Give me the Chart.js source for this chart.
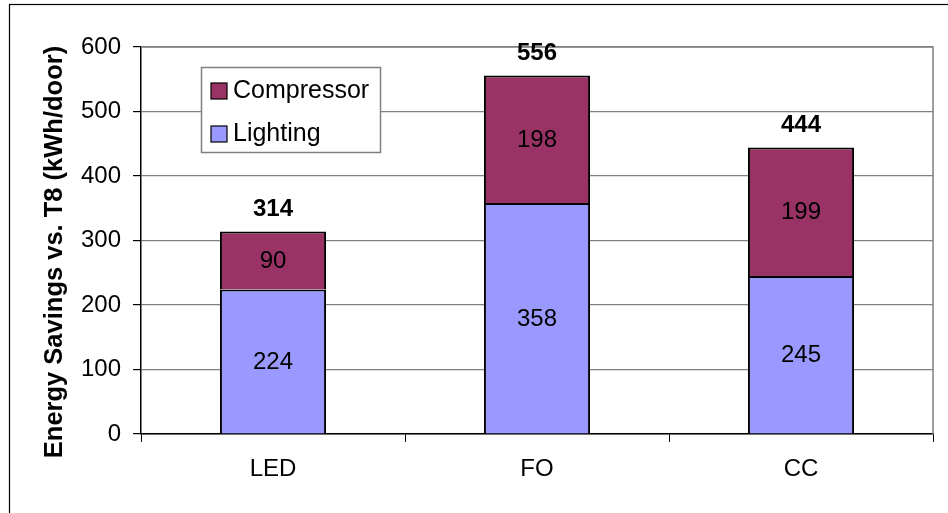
<!DOCTYPE html>
<html>
<head>
<meta charset="utf-8">
<script src="https://cdn.jsdelivr.net/npm/chart.js@4/dist/chart.umd.min.js"></script>
<style>
  html, body { margin: 0; padding: 0; background: #fff; }
  #wrap { position: relative; width: 948px; height: 513px; }
</style>
</head>
<body>
<div id="wrap"><canvas id="c" width="948" height="513"></canvas></div>
<script>
// Energy savings per door compared with T8 lamps
const categories = ['LED', 'FO', 'CC'];
const lighting = [224, 358, 245];
const compressor = [90, 198, 199];
const yTicks = [0, 100, 200, 300, 400, 500, 600];
const yTitle = 'Energy Savings vs. T8 (kWh/door)';

const FONT = "'Liberation Sans', Arial, sans-serif";
const GRID = '#808080';

// Frame, plot border, axis title, in-plot legend, value labels
const decorations = {
  id: 'decorations',
  beforeDraw(chart) {
    const ctx = chart.ctx;
    ctx.save();
    ctx.fillStyle = '#fff';
    ctx.fillRect(0, 0, chart.width, chart.height);
    ctx.strokeStyle = '#000';
    ctx.lineWidth = 1.2;
    ctx.strokeRect(9.5, 4.5, chart.width + 20, chart.height + 20);
    ctx.restore();
  },
  afterDatasetsDraw(chart) {
    const ctx = chart.ctx;
    const a = chart.chartArea;
    ctx.save();
    // gray top and right plot edges
    ctx.strokeStyle = GRID;
    ctx.lineWidth = 1.5;
    ctx.beginPath();
    ctx.moveTo(a.left, a.top);
    ctx.lineTo(a.right, a.top);
    ctx.lineTo(a.right, a.bottom);
    ctx.stroke();

    // segment values
    ctx.fillStyle = '#000';
    ctx.textAlign = 'center';
    ctx.textBaseline = 'middle';
    ctx.font = '24px ' + FONT;
    const totals = categories.map(() => 0);
    const tops = categories.map(() => a.bottom);
    chart.data.datasets.forEach((ds, di) => {
      const meta = chart.getDatasetMeta(di);
      meta.data.forEach((bar, i) => {
        totals[i] += ds.data[i];
        tops[i] = Math.min(tops[i], bar.y);
        ctx.fillText(String(ds.data[i]), bar.x, (bar.y + bar.base) / 2 + 1);
      });
    });
    // stack totals
    ctx.font = 'bold 24px ' + FONT;
    const meta0 = chart.getDatasetMeta(0);
    meta0.data.forEach((bar, i) => {
      ctx.fillText(String(totals[i]), bar.x, tops[i] - 22);
    });

    // legend box
    const lx = a.left + 60, ly = a.top + 20, lw = 179, lh = 85;
    ctx.fillStyle = '#fff';
    ctx.fillRect(lx, ly, lw, lh);
    ctx.strokeStyle = GRID;
    ctx.lineWidth = 1.5;
    ctx.strokeRect(lx + 0.5, ly + 0.5, lw, lh);
    const items = chart.data.datasets.slice().reverse();
    ctx.font = '25px ' + FONT;
    ctx.textAlign = 'left';
    ctx.textBaseline = 'middle';
    items.forEach((ds, k) => {
      const cy = ly + 24 + k * 43;
      ctx.fillStyle = ds.backgroundColor;
      ctx.fillRect(lx + 10, cy - 8, 16, 16);
      ctx.strokeStyle = '#000';
      ctx.lineWidth = 1.2;
      ctx.strokeRect(lx + 10, cy - 8, 16, 16);
      ctx.fillStyle = '#000';
      ctx.fillText(ds.label, lx + 32, cy);
    });

    // vertical axis title
    ctx.translate(62, 252);
    ctx.rotate(-Math.PI / 2);
    ctx.font = 'bold 25.5px ' + FONT;
    ctx.textAlign = 'center';
    ctx.textBaseline = 'alphabetic';
    ctx.fillText(yTitle, 0, 0);
    ctx.restore();
  }
};

new Chart(document.getElementById('c'), {
  type: 'bar',
  data: {
    labels: categories,
    datasets: [
      {
        label: 'Lighting',
        data: lighting,
        backgroundColor: '#9999FF',
        borderColor: '#000',
        borderWidth: { top: 2, left: 2, right: 2, bottom: 0 },
        borderSkipped: false
      },
      {
        label: 'Compressor',
        data: compressor,
        backgroundColor: '#993366',
        borderColor: '#000',
        borderWidth: { top: 2, left: 2, right: 2, bottom: 0 },
        borderSkipped: false
      }
    ]
  },
  options: {
    responsive: false,
    animation: false,
    events: [],
    layout: { padding: { top: 47, right: 15, bottom: 0, left: 0 } },
    datasets: { bar: { barPercentage: 1, categoryPercentage: 0.402 } },
    plugins: { legend: { display: false }, tooltip: { enabled: false } },
    scales: {
      x: {
        stacked: true,
        afterFit(s) { s.height = 79; },
        grid: { drawOnChartArea: false, drawTicks: true, tickLength: 8, tickColor: '#000', offset: true },
        border: { color: '#000', width: 1.5 },
        ticks: { color: '#000', font: { family: FONT, size: 24 }, padding: 13 }
      },
      y: {
        stacked: true,
        min: 0,
        max: 600,
        afterFit(s) { s.width = 141; },
        afterBuildTicks(s) { s.ticks = yTicks.map(v => ({ value: v })); },
        grid: { color: GRID, lineWidth: 1.2, tickLength: 8, tickColor: '#000' },
        border: { color: '#000', width: 1.5 },
        ticks: { color: '#000', font: { family: FONT, size: 24 }, padding: 12 }
      }
    }
  },
  plugins: [decorations]
});
</script>
</body>
</html>
